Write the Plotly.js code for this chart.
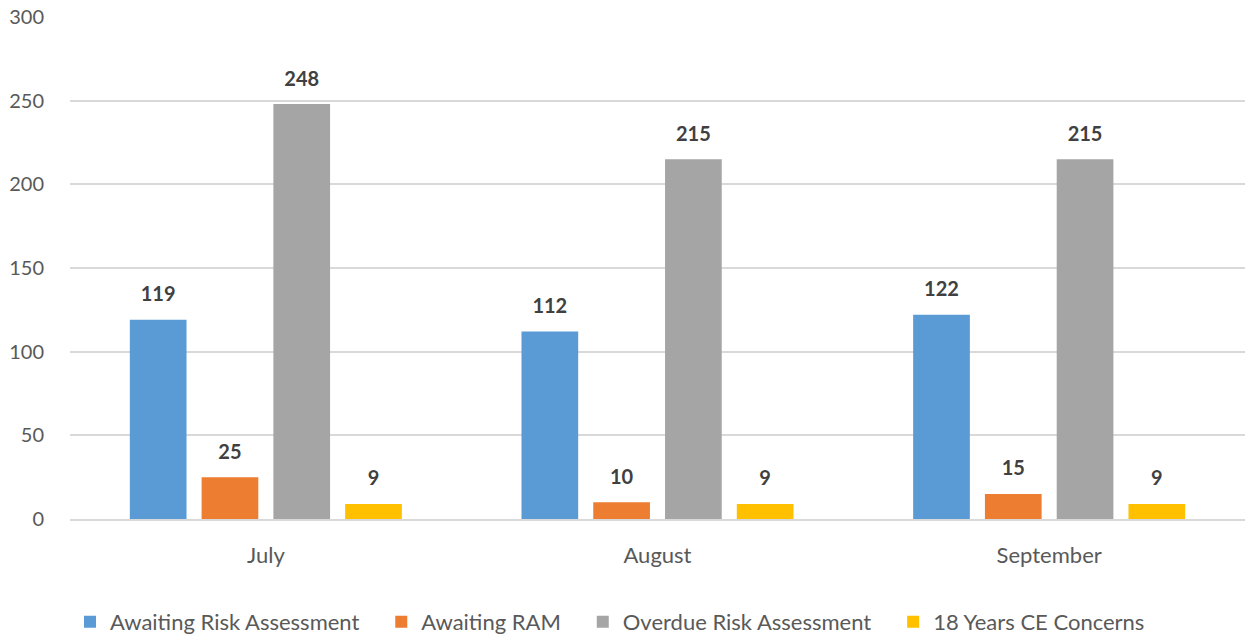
<!DOCTYPE html>
<html><head><meta charset="utf-8">
<script src="https://cdn.plot.ly/plotly-3.0.1.min.js"></script>
<style>html,body{margin:0;padding:0;background:#fff}#chart{width:1245px;height:638px}</style>
</head><body><div id="chart"></div>
<script>
const months = ["July", "August", "September"];
const seriesNames = ["Awaiting Risk Assessment", "Awaiting RAM", "Overdue Risk Assessment", "18 Years CE Concerns"];
const awaitingRiskAssessment = [119, 112, 122];
const awaitingRAM = [25, 10, 15];
const overdueRiskAssessment = [248, 215, 215];
const ceConcerns18 = [9, 9, 9];
const yTicks = [0, 50, 100, 150, 200, 250, 300];
const colors = ["#5B9BD5", "#ED7D31", "#A5A5A5", "#FFC000"];

const values = [awaitingRiskAssessment, awaitingRAM, overdueRiskAssessment, ceConcerns18];
const font = "Lato, 'Open Sans', sans-serif";
const pad = "\u00A0\u00A0\u00A0";
const bars = values.map((v, i) => ({
  type: "bar", name: seriesNames[i] + pad, x: months, y: v,
  marker: {color: colors[i]}, offsetgroup: "g" + i,
  hoverinfo: "skip"
}));
const labels = values.map((v, i) => ({
  type: "scatter", mode: "markers+text", x: months, y: v, offsetgroup: "g" + i,
  marker: {size: 20, opacity: 0, color: colors[i]},
  text: v.map(String), textposition: "top center",
  textfont: {family: font, size: 20, color: "#404040", weight: "bold"},
  showlegend: false, cliponaxis: false, hoverinfo: "skip"
}));
const layout = {
  width: 1245, height: 638,
  margin: {l: 70, r: 0, t: 17, b: 119, autoexpand: false},
  barmode: "group", bargap: 0.267, bargroupgap: 0.21,
  scattermode: "group", scattergap: 0.267,
  paper_bgcolor: "#fff", plot_bgcolor: "#fff",
  font: {family: font, size: 20, color: "#595959"},
  xaxis: {showgrid: false, showline: true, linecolor: "#d9d9d9", linewidth: 2, ticks: "", ticklabelstandoff: 16, tickfont: {size: 22, color: "#595959"}},
  yaxis: {range: [0, 300], tickvals: yTicks, showgrid: true, gridcolor: "#d9d9d9", gridwidth: 2, zeroline: false, showline: false, ticks: "", ticklabelstandoff: 25, tickfont: {size: 20, color: "#595959"}},
  showlegend: true,
  legend: {orientation: "h", x: 0, xanchor: "left", y: -0.163, yanchor: "top", font: {size: 22, color: "#595959"}, itemwidth: 30, traceorder: "normal"}
};
Plotly.newPlot("chart", bars.concat(labels), layout, {displayModeBar: false, staticPlot: true});
</script></body></html>
